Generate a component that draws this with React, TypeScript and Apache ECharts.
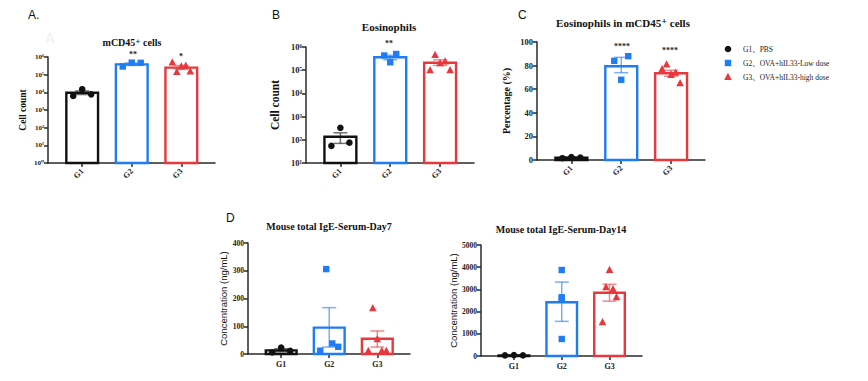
import React, { useEffect, useRef } from 'react';
import * as echarts from 'echarts';

// ---------- shared ----------
const groups = ['G1', 'G2', 'G3'];
const colors = ['#111111', '#1f7cf5', '#e8383d'];
const legendLabels = ['G1、PBS', 'G2、OVA+hIL33-Low dose', 'G3、OVA+hIL33-high dose'];

// ---------- Panel A: mCD45+ cells (cell count, log) ----------
const aMeans = [9500, 3.8e5, 2.5e5];
const aErr = [[7500, 12000], [3.3e5, 4.6e5], [2.0e5, 3.3e5]];
const aPoints = [
  [6200, 15000, 7700],
  [2.9e5, 4.8e5, 4.7e5],
  [4.9e5, 1.4e5, 2.9e5, 3.2e5, 1.5e5],
];
const aSig = ['', '**', '*'];

// ---------- Panel B: Eosinophils (cell count, log) ----------
const bMeans = [135, 3.6e5, 2.1e5];
const bErr = [[70, 200], [2.8e5, 4.4e5], [1.6e5, 2.8e5]];
const bPoints = [
  [55, 330, 75],
  [4.3e5, 2.2e5, 5.0e5],
  [1.0e5, 4.5e5, 2.0e5, 2.4e5, 1.0e5],
];
const bSig = ['', '**', ''];

// ---------- Panel C: Eosinophils in mCD45+ cells (%) ----------
const cMeans = [2, 79.5, 73.5];
const cErr = [[1.5, 2.5], [74, 87], [71, 76]];
const cPoints = [
  [1.5, 2.5, 2],
  [84, 68, 88],
  [77, 81, 72, 74, 65],
];
const cSig = ['', '****', '****'];

// ---------- Panel D1: IgE Day7 (ng/mL) ----------
const d1Means = [13, 95, 55];
const d1Err = [[8, 19], [25, 167], [25, 83]];
const d1Points = [
  [6, 23, 11],
  [12, 306, 38, 26],
  [11, 165, 53, 11, 11],
];

// ---------- Panel D2: IgE Day14 (ng/mL) ----------
const d2Means = [30, 2420, 2850];
const d2Err = [[22, 40], [1560, 3330], [2470, 3230]];
const d2Points = [
  [30, 40, 30],
  [3874, 2644, 2580, 766],
  [1518, 3094, 3874, 3004, 2644],
];

const serif = "'Times New Roman', 'Liberation Serif', 'DejaVu Serif', 'Noto Sans CJK SC', serif";
const sans = "Arial, 'Liberation Sans', 'Noto Sans', sans-serif";
const sup = ['⁰', '¹', '²', '³', '⁴', '⁵', '⁶', '⁷'];

type PanelCfg = {
  means: number[];
  err: number[][];
  points: number[][];
  grid: { left: number; top: number; width: number; height: number };
  log: boolean;
  ymin: number;
  ymax: number;
  interval?: number;
  yName: string;
  yNameGap: number;
  yNameSize: number;
  yNameFont: string;
  tickSize: number;
  xRotate: number;
  xLabelSize: number;
  spans: number[];
};

const panels: PanelCfg[] = [
  {
    means: aMeans, err: aErr, points: aPoints,
    grid: { left: 48, top: 57, width: 167, height: 106 },
    log: true, ymin: 1, ymax: 1e6,
    yName: 'Cell count', yNameGap: 20, yNameSize: 9.5, yNameFont: serif,
    tickSize: 7, xRotate: 45, xLabelSize: 8, spans: [18, 18, 18],
  },
  {
    means: bMeans, err: bErr, points: bPoints,
    grid: { left: 306, top: 47, width: 168, height: 116 },
    log: true, ymin: 10, ymax: 1e6,
    yName: 'Cell count', yNameGap: 25, yNameSize: 11.5, yNameFont: serif,
    tickSize: 8.5, xRotate: 45, xLabelSize: 8, spans: [18, 12, 20],
  },
  {
    means: cMeans, err: cErr, points: cPoints,
    grid: { left: 537, top: 42, width: 168, height: 118 },
    log: false, ymin: 0, ymax: 100, interval: 20,
    yName: 'Percentage (%)', yNameGap: 26, yNameSize: 10, yNameFont: serif,
    tickSize: 8.5, xRotate: 45, xLabelSize: 8, spans: [18, 14, 18],
  },
  {
    means: d1Means, err: d1Err, points: d1Points,
    grid: { left: 248, top: 243, width: 162, height: 111 },
    log: false, ymin: 0, ymax: 400, interval: 100,
    yName: 'Concentration (ng/mL)', yNameGap: 20, yNameSize: 9.5, yNameFont: sans,
    tickSize: 7.5, xRotate: 0, xLabelSize: 8, spans: [18, 18, 18],
  },
  {
    means: d2Means, err: d2Err, points: d2Points,
    grid: { left: 481, top: 245, width: 161, height: 111 },
    log: false, ymin: 0, ymax: 5000, interval: 1000,
    yName: 'Concentration (ng/mL)', yNameGap: 22, yNameSize: 9.5, yNameFont: sans,
    tickSize: 7.5, xRotate: 0, xLabelSize: 8, spans: [18, 0, 14],
  },
];

const XMIN = -0.69;
const XMAX = 2.68;
const HALF_BAR = 0.32;

function drawSymbol(g: number, cx: number, cy: number, color: string) {
  if (g === 0) {
    return { type: 'circle', shape: { cx, cy, r: 3.3 }, style: { fill: color } };
  }
  if (g === 1) {
    return { type: 'rect', shape: { x: cx - 3.2, y: cy - 3.2, width: 6.4, height: 6.4 }, style: { fill: color } };
  }
  return {
    type: 'polygon',
    shape: { points: [[cx, cy - 4.2], [cx - 3.8, cy + 3], [cx + 3.8, cy + 3]] },
    style: { fill: color },
  };
}

function buildOption() {
  const grid: any[] = [];
  const xAxis: any[] = [];
  const yAxis: any[] = [];
  const series: any[] = [];

  panels.forEach((p, k) => {
    grid.push({ ...p.grid, containLabel: false });
    xAxis.push({
      gridIndex: k,
      type: 'value',
      min: XMIN,
      max: XMAX,
      splitLine: { show: false },
      axisLine: { show: true, onZero: false, lineStyle: { color: '#2a2a2a', width: 1.5 } },
      axisTick: { show: true, customValues: [0, 1, 2], length: 4, lineStyle: { color: '#2a2a2a', width: 1.5 } },
      axisLabel: {
        customValues: [0, 1, 2],
        formatter: (v: number) => groups[Math.round(v)] ?? '',
        rotate: p.xRotate,
        fontSize: p.xLabelSize,
        fontWeight: 'bold',
        fontFamily: serif,
        color: '#222',
        margin: p.xRotate ? 7 : 6,
      },
    });
    const yLabel: any = {
      fontSize: p.tickSize,
      fontWeight: 'bold',
      fontFamily: serif,
      color: '#222',
      margin: 4,
    };
    const yTick: any = { show: true, length: 4, lineStyle: { color: '#2a2a2a', width: 1.5 } };
    if (p.log) {
      const vals: number[] = [];
      for (let e = Math.round(Math.log10(p.ymin)); e <= Math.round(Math.log10(p.ymax)); e++) vals.push(Math.pow(10, e));
      yLabel.customValues = vals;
      yLabel.formatter = (v: number) => '10' + sup[Math.round(Math.log10(v))];
      yTick.customValues = vals;
    } else {
      yLabel.formatter = (v: number) => String(Math.round(v));
    }
    yAxis.push({
      gridIndex: k,
      type: p.log ? 'log' : 'value',
      logBase: 10,
      min: p.ymin,
      max: p.ymax,
      ...(p.interval ? { interval: p.interval } : {}),
      splitNumber: p.log ? 6 : undefined,
      splitLine: { show: false },
      axisLine: { show: true, onZero: false, lineStyle: { color: '#2a2a2a', width: 1.5 } },
      axisTick: yTick,
      axisLabel: yLabel,
      name: p.yName,
      nameLocation: 'middle',
      nameRotate: 90,
      nameGap: p.yNameGap,
      nameTextStyle: {
        fontSize: p.yNameSize,
        fontWeight: p.yNameFont === serif ? 'bold' : 'normal',
        fontFamily: p.yNameFont,
        color: '#111',
      },
    });

    const base = p.ymin;
    // bars
    series.push({
      type: 'custom',
      xAxisIndex: k,
      yAxisIndex: k,
      z: 2,
      data: p.means.map((v, i) => [i, v]),
      renderItem: (_params: any, api: any) => {
        const i = api.value(0);
        const v = api.value(1);
        const p0 = api.coord([i - HALF_BAR, base]);
        const p1 = api.coord([i + HALF_BAR, v]);
        return {
          type: 'rect',
          shape: { x: p0[0], y: p1[1], width: p1[0] - p0[0], height: p0[1] - p1[1] },
          style: { fill: '#ffffff', stroke: colors[i], lineWidth: 2.4 },
        };
      },
    });
    // error bars
    series.push({
      type: 'custom',
      xAxisIndex: k,
      yAxisIndex: k,
      z: 3,
      encode: { x: 0, y: [1, 2] },
      data: p.err.map((e, i) => [i, e[0], e[1]]),
      renderItem: (_params: any, api: any) => {
        const i = api.value(0);
        const lo = api.coord([i, api.value(1)]);
        const hi = api.coord([i, api.value(2)]);
        const st = { stroke: colors[i], lineWidth: 1.5, opacity: 0.6 };
        const cw = 7;
        return {
          type: 'group',
          children: [
            { type: 'line', shape: { x1: lo[0], y1: lo[1], x2: hi[0], y2: hi[1] }, style: st },
            { type: 'line', shape: { x1: lo[0] - cw, y1: lo[1], x2: lo[0] + cw, y2: lo[1] }, style: st },
            { type: 'line', shape: { x1: hi[0] - cw, y1: hi[1], x2: hi[0] + cw, y2: hi[1] }, style: st },
          ],
        };
      },
    });
    // individual points
    const pts: number[][] = [];
    p.points.forEach((arr, g) => arr.forEach((v, j) => pts.push([g, v, j, arr.length])));
    series.push({
      type: 'custom',
      xAxisIndex: k,
      yAxisIndex: k,
      z: 4,
      data: pts,
      renderItem: (_params: any, api: any) => {
        const g = api.value(0);
        const j = api.value(2);
        const n = api.value(3);
        const c = api.coord([g, api.value(1)]);
        const span = p.spans[g];
        const dx = n > 1 ? (j - (n - 1) / 2) * (span / (n - 1)) : 0;
        return drawSymbol(g, c[0] + dx, c[1], colors[g]);
      },
    });
  });

  const titleStyle = (x: number, y: number, text: string, size: number) => ({
    type: 'text',
    x,
    y,
    style: { text, fontSize: size, fontWeight: 'bold', fontFamily: serif, fill: '#111', align: 'center', verticalAlign: 'middle' },
  });
  const star = (x: number, y: number, text: string) => ({
    type: 'text',
    x,
    y,
    style: { text, fontSize: 8, fontWeight: 'bold', fontFamily: serif, fill: '#222', align: 'center', verticalAlign: 'middle' },
  });
  const letter = (x: number, y: number, text: string) => ({
    type: 'text',
    x,
    y,
    style: { text, fontSize: 12, fontFamily: sans, fill: '#111', align: 'left', verticalAlign: 'middle' },
  });

  const graphic: any[] = [
    { type: 'text', x: 50, y: 38, style: { text: 'A', fontSize: 14, fontWeight: 'bold', fontFamily: sans, fill: '#f1f2f5', align: 'center', verticalAlign: 'middle' } },
    letter(28, 15, 'A.'),
    letter(272, 15, 'B'),
    letter(518, 15, 'C'),
    letter(226, 218, 'D'),
    titleStyle(132, 42, 'mCD45⁺ cells', 10),
    titleStyle(389, 27, 'Eosinophils', 11),
    titleStyle(623, 23, 'Eosinophils in mCD45⁺ cells', 11),
    titleStyle(329, 226, 'Mouse total IgE-Serum-Day7', 10),
    titleStyle(561, 229, 'Mouse total IgE-Serum-Day14', 10),
  ];
  const starPos: [number, number, string][] = [
    [133, 54, aSig[1]],
    [181, 56, aSig[2]],
    [389, 43, bSig[1]],
    [622, 46, cSig[1]],
    [670, 50, cSig[2]],
  ];
  starPos.forEach(([x, y, t]) => graphic.push(star(x, y, t)));

  // legend
  legendLabels.forEach((t, g) => {
    const y = 49 + g * 14;
    graphic.push(drawSymbol(g, 728, y, colors[g]));
    graphic.push({
      type: 'text',
      x: 743,
      y,
      style: { text: t, fontSize: 7.5, fontFamily: serif, fill: '#222', align: 'left', verticalAlign: 'middle' },
    });
  });

  return {
    animation: false,
    backgroundColor: '#ffffff',
    grid,
    xAxis,
    yAxis,
    series,
    graphic,
  };
}

export default function App() {
  const ref = useRef<HTMLDivElement>(null);
  useEffect(() => {
    if (!ref.current) return;
    const chart = echarts.init(ref.current, undefined, { renderer: 'svg' });
    chart.setOption(buildOption() as any);
    return () => chart.dispose();
  }, []);
  return <div ref={ref} style={{ position: 'absolute', left: 0, top: 0, width: 868, height: 381 }} />;
}
